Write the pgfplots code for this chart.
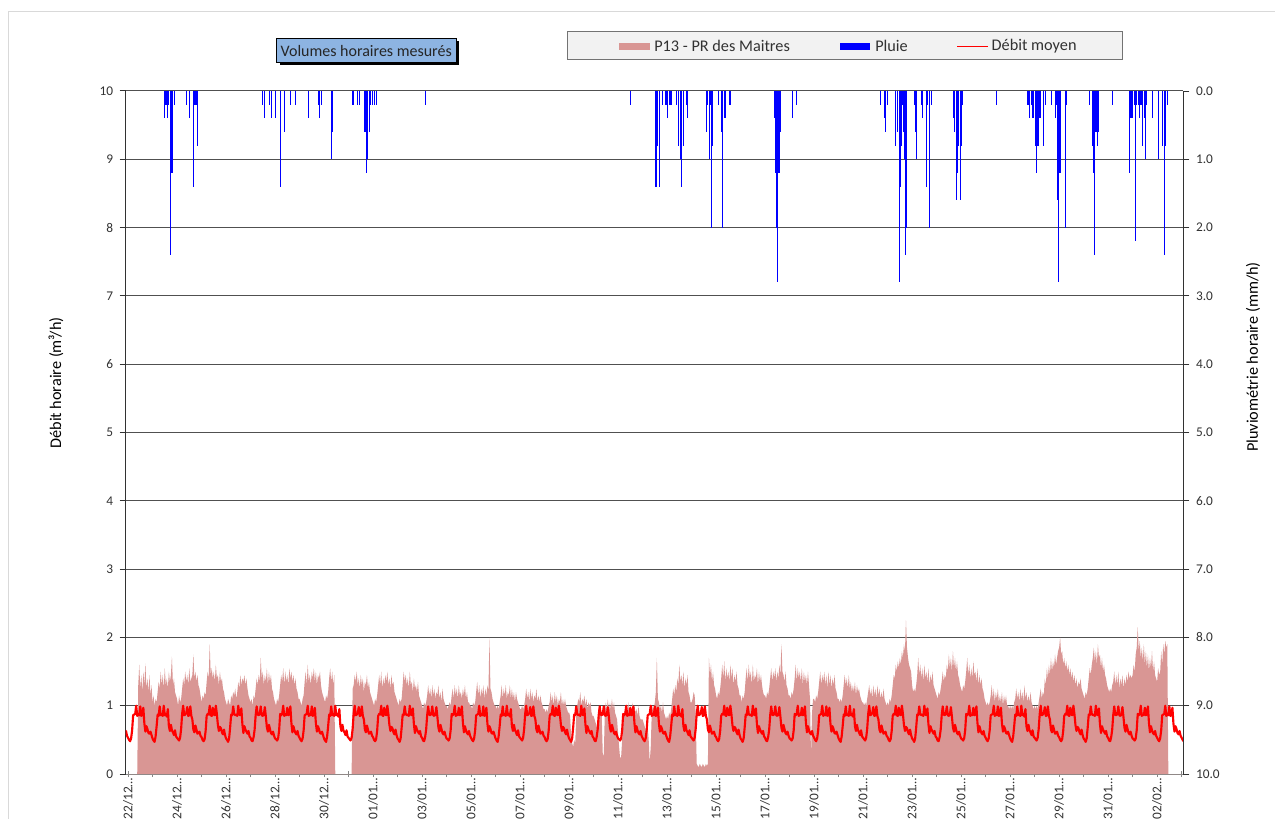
\documentclass[border=0pt]{standalone}
\usepackage{fontspec}
\setmainfont{Carlito}
\usepackage{pgfplots}
\pgfplotsset{compat=1.18}
\definecolor{pinkfill}{RGB}{217,150,148}
\definecolor{titlebox}{RGB}{141,180,226}
\definecolor{legfill}{RGB}{242,242,242}
\definecolor{gridc}{RGB}{80,80,80}
\definecolor{axisgray}{RGB}{134,134,134}
\definecolor{txt}{RGB}{50,50,50}
\pgfplotsset{/pgf/number format/assume math mode=true}
\newcommand{\bigf}{\fontsize{12.2}{14.6}\selectfont}
\begin{document}
\begin{tikzpicture}
\useasboundingbox (0,0) rectangle (956.25pt,613.5pt);
\draw[color=black!15, line width=0.75pt] (6pt,-5pt) -- (6pt,604.5pt) -- (965pt,604.5pt);
\begin{axis}[
  at={(94.3pt,33pt)}, anchor=south west,
  scale only axis, width=793.2pt, height=512.25pt,
  xmin=-0.094, xmax=43.07, ymin=0, ymax=10,
  axis y line*=left, axis x line*=bottom,
  ytick={0,1,...,10},
  xtick={0,2,...,42},
  minor xtick={1,3,...,43},
  xticklabels={22/12…,24/12…,26/12…,28/12…,30/12…,01/01…,03/01…,05/01…,07/01…,09/01…,11/01…,13/01…,15/01…,17/01…,19/01…,21/01…,23/01…,25/01…,27/01…,29/01…,31/01…,02/02…},
  xticklabel style={rotate=90, anchor=east, text=txt, inner sep=0.5pt},
  yticklabel style={text=txt, xshift=-1.5pt},
  major tick length=4.5pt, minor tick length=4.5pt,
  xtick align=center, ytick align=outside,
  x axis line style={axisgray, line width=0.75pt},
  y axis line style={txt, line width=0.75pt},
  xtick style={axisgray, line width=0.75pt},
  minor tick style={axisgray, line width=0.75pt},
  ytick style={txt, line width=0.75pt},
  ymajorgrids, grid style={gridc, line width=0.75pt},
  every axis y label/.style={at={(axis description cs:-0.0659,0.5725)}, rotate=90, anchor=center, font=\bigf, text=black},
  ylabel={Débit horaire (m³/h)},
]
\addplot[draw=none, fill=pinkfill] table[header=false, row sep=\\, x expr=\coordindex/24, y index=0] {
0\\0\\0\\0\\0\\0\\0\\0\\0\\0\\1.30\\1.60\\1.25\\1.45\\1.20\\1.50\\1.30\\1.62\\1.25\\1.40\\1.20\\1.45\\1.15\\1.30\\
1.05\\1.15\\1.00\\1.10\\1.05\\1.20\\1.35\\1.25\\1.50\\1.30\\1.45\\1.25\\1.55\\1.30\\1.40\\1.25\\1.50\\1.35\\1.45\\1.72\\1.30\\1.40\\1.20\\1.15\\
1.10\\1.00\\1.15\\1.05\\1.10\\1.25\\1.40\\1.30\\1.50\\1.35\\1.45\\1.30\\1.55\\1.35\\1.40\\1.45\\1.75\\1.40\\1.50\\1.35\\1.45\\1.30\\1.25\\1.15\\
1.05\\1.15\\1.10\\1.20\\1.15\\1.35\\1.50\\1.40\\1.90\\1.45\\1.55\\1.40\\1.50\\1.35\\1.60\\1.40\\1.45\\1.30\\1.50\\1.35\\1.40\\1.25\\1.20\\1.10\\
1.05\\1.00\\1.10\\1.05\\1.00\\1.15\\1.10\\1.20\\1.15\\1.25\\1.10\\1.20\\1.35\\1.25\\1.45\\1.30\\1.40\\1.35\\1.45\\1.30\\1.40\\1.25\\1.15\\1.10\\
1.05\\1.10\\1.00\\1.15\\1.10\\1.25\\1.40\\1.30\\1.45\\1.35\\1.70\\1.40\\1.50\\1.30\\1.45\\1.35\\1.55\\1.30\\1.50\\1.35\\1.45\\1.25\\1.20\\1.10\\
1.05\\1.00\\1.10\\1.05\\1.15\\1.30\\1.45\\1.35\\1.55\\1.30\\1.50\\1.35\\1.45\\1.30\\1.55\\1.40\\1.50\\1.35\\1.45\\1.30\\1.40\\1.25\\1.20\\1.10\\
1.10\\1.05\\1.00\\1.10\\1.15\\1.35\\1.50\\1.30\\1.60\\1.35\\1.45\\1.30\\1.50\\1.40\\1.55\\1.35\\1.50\\1.30\\1.45\\1.40\\1.50\\1.30\\1.20\\1.15\\
1.10\\1.05\\1.15\\1.10\\1.20\\1.40\\1.55\\1.35\\1.50\\1.30\\1.45\\0\\0\\0\\0\\0\\0\\0\\0\\0\\0\\0\\0\\0\\
0\\0\\0\\0\\1.25\\1.30\\1.45\\1.35\\1.50\\1.30\\1.40\\1.25\\1.45\\1.30\\1.40\\1.20\\1.35\\1.30\\1.45\\1.25\\1.35\\1.20\\1.15\\1.10\\
1.05\\1.00\\1.10\\1.05\\1.15\\1.30\\1.45\\1.30\\1.50\\1.25\\1.40\\1.30\\1.45\\1.35\\1.50\\1.30\\1.40\\1.25\\1.45\\1.30\\1.35\\1.20\\1.15\\1.10\\
1.05\\1.00\\1.10\\1.05\\1.10\\1.30\\1.50\\1.35\\1.45\\1.30\\1.40\\1.25\\1.50\\1.30\\1.35\\1.20\\1.40\\1.25\\1.30\\1.20\\1.35\\1.15\\1.10\\1.05\\
1.00\\0.95\\1.05\\1.00\\1.05\\1.15\\1.30\\1.15\\1.25\\1.10\\1.30\\1.15\\1.25\\1.10\\1.20\\1.15\\1.30\\1.10\\1.20\\1.05\\1.25\\1.10\\1.05\\1.00\\
1.00\\0.95\\1.00\\1.05\\1.00\\1.15\\1.25\\1.10\\1.30\\1.15\\1.25\\1.10\\1.30\\1.15\\1.20\\1.10\\1.25\\1.15\\1.30\\1.10\\1.20\\1.05\\1.05\\1.00\\
1.00\\0.95\\1.05\\1.00\\1.05\\1.20\\1.35\\1.15\\1.30\\1.10\\1.25\\1.15\\1.30\\1.10\\1.25\\1.15\\1.30\\1.20\\2.00\\1.25\\1.20\\1.10\\1.05\\1.00\\
1.00\\0.95\\1.00\\0.95\\1.05\\1.15\\1.30\\1.10\\1.25\\1.15\\1.30\\1.10\\1.20\\1.15\\1.30\\1.10\\1.25\\1.10\\1.20\\1.05\\1.20\\1.10\\1.05\\1.00\\
0.95\\0.95\\1.00\\0.95\\1.00\\1.10\\1.25\\1.10\\1.20\\1.05\\1.25\\1.10\\1.20\\1.05\\1.15\\1.10\\1.25\\1.05\\1.15\\1.05\\1.15\\1.05\\1.00\\0.95\\
0.95\\0.90\\0.95\\0.90\\1.00\\1.05\\1.20\\1.05\\1.15\\1.00\\1.20\\1.05\\1.15\\1.00\\1.10\\1.05\\1.20\\1.00\\1.10\\1.00\\1.10\\1.00\\0.95\\0.90\\
0.90\\0.85\\0.55\\0.45\\0.40\\0.50\\0.45\\0.85\\1.00\\1.10\\1.05\\1.20\\1.00\\1.10\\1.05\\1.15\\1.00\\1.10\\0.95\\1.05\\1.00\\1.05\\0.90\\0.85\\
0.85\\0.80\\0.75\\0.70\\0.65\\0.80\\0.90\\0.95\\0.85\\0.30\\0.26\\0.90\\1.05\\0.95\\1.10\\0.90\\1.05\\0.95\\1.10\\0.95\\1.05\\0.90\\0.85\\0.80\\
0.60\\0.40\\0.23\\0.25\\0.50\\0.75\\0.90\\0.95\\1.00\\0.90\\1.05\\0.85\\1.00\\0.90\\1.05\\0.85\\1.00\\0.90\\0.95\\0.85\\1.00\\0.85\\0.80\\0.80\\
0.80\\0.75\\0.70\\0.65\\0.60\\0.70\\0.50\\0.16\\0.40\\0.90\\1.00\\0.95\\1.05\\1.20\\1.70\\1.10\\1.05\\0.95\\1.00\\0.90\\1.05\\0.90\\0.85\\0.80\\
0.85\\0.80\\0.90\\0.85\\0.95\\1.10\\1.25\\1.15\\1.30\\1.20\\1.40\\1.30\\1.60\\1.35\\1.45\\1.30\\1.50\\1.25\\1.40\\1.30\\1.45\\1.20\\1.15\\1.05\\
1.05\\1.10\\1.20\\1.15\\0.90\\0.15\\0.12\\0.10\\0.15\\0.12\\0.10\\0.15\\0.12\\0.10\\0.15\\0.12\\0.15\\1.70\\1.45\\1.60\\1.35\\1.50\\1.30\\1.25\\
1.15\\1.10\\1.20\\1.15\\1.25\\1.40\\1.60\\1.40\\1.65\\1.35\\1.55\\1.40\\1.50\\1.35\\1.60\\1.40\\1.55\\1.30\\1.45\\1.35\\1.50\\1.30\\1.25\\1.15\\
1.15\\1.05\\1.15\\1.10\\1.20\\1.40\\1.55\\1.35\\1.60\\1.40\\1.50\\1.30\\1.60\\1.35\\1.45\\1.40\\1.55\\1.30\\1.50\\1.35\\1.45\\1.30\\1.20\\1.15\\
1.15\\1.10\\1.20\\1.15\\1.25\\1.40\\1.55\\1.35\\1.50\\1.40\\1.55\\1.35\\1.50\\1.40\\1.60\\1.45\\1.90\\1.50\\1.45\\1.35\\1.50\\1.30\\1.25\\1.15\\
1.15\\1.10\\1.20\\1.15\\1.25\\1.40\\1.60\\1.35\\1.55\\1.40\\1.50\\1.35\\1.55\\1.30\\1.50\\1.35\\1.45\\1.30\\1.50\\1.30\\1.10\\0.25\\0.90\\1.10\\
1.10\\1.05\\1.15\\1.10\\1.20\\1.35\\1.50\\1.30\\1.45\\1.35\\1.50\\1.30\\1.45\\1.25\\1.50\\1.30\\1.45\\1.25\\1.40\\1.30\\1.45\\1.25\\1.20\\1.10\\
1.10\\1.05\\1.10\\1.05\\1.15\\1.30\\1.45\\1.30\\1.40\\1.25\\1.45\\1.25\\1.35\\1.20\\1.30\\1.20\\1.35\\1.15\\1.30\\1.20\\1.25\\1.15\\1.10\\1.05\\
1.05\\1.00\\1.05\\1.00\\1.10\\1.20\\1.30\\1.15\\1.25\\1.10\\1.30\\1.15\\1.25\\1.10\\1.30\\1.15\\1.25\\1.10\\1.20\\1.10\\1.25\\1.10\\1.05\\1.00\\
1.05\\1.00\\1.10\\1.05\\1.15\\1.30\\1.45\\1.40\\1.60\\1.50\\1.65\\1.55\\1.70\\1.60\\1.80\\1.70\\1.90\\1.80\\2.25\\1.85\\1.70\\1.60\\1.55\\1.50\\
1.30\\1.20\\1.25\\1.20\\1.30\\1.45\\1.70\\1.45\\1.60\\1.40\\1.55\\1.35\\1.60\\1.40\\1.50\\1.35\\1.55\\1.30\\1.45\\1.35\\1.50\\1.30\\1.25\\1.20\\
1.15\\1.10\\1.20\\1.15\\1.25\\1.35\\1.50\\1.35\\1.45\\1.40\\1.60\\1.50\\1.75\\1.55\\1.70\\1.50\\1.80\\1.55\\1.70\\1.50\\1.65\\1.45\\1.40\\1.30\\
1.25\\1.20\\1.30\\1.25\\1.35\\1.50\\1.70\\1.45\\1.60\\1.40\\1.55\\1.40\\1.65\\1.45\\1.50\\1.35\\1.55\\1.30\\1.45\\1.30\\1.40\\1.25\\1.20\\1.10\\
1.05\\1.00\\1.05\\1.00\\1.05\\1.15\\1.30\\1.10\\1.25\\1.05\\1.20\\1.10\\1.25\\1.05\\1.15\\1.05\\1.20\\1.00\\1.15\\1.05\\1.15\\1.00\\1.00\\0.95\\
1.00\\0.95\\1.00\\0.95\\1.05\\1.10\\1.25\\1.10\\1.20\\1.05\\1.25\\1.10\\1.20\\1.05\\1.30\\1.10\\1.20\\1.05\\1.15\\1.05\\1.20\\1.05\\1.00\\0.95\\
1.00\\0.95\\1.00\\0.95\\1.05\\1.15\\1.25\\1.10\\1.20\\1.15\\1.40\\1.30\\1.55\\1.40\\1.60\\1.45\\1.70\\1.50\\1.65\\1.55\\1.75\\1.60\\1.70\\1.80\\
1.85\\2.00\\1.75\\1.80\\1.60\\1.70\\1.55\\1.65\\1.50\\1.60\\1.45\\1.55\\1.40\\1.50\\1.35\\1.45\\1.30\\1.40\\1.25\\1.35\\1.30\\1.40\\1.25\\1.20\\
1.15\\1.10\\1.20\\1.15\\1.25\\1.40\\1.55\\1.45\\1.60\\1.70\\1.85\\1.65\\1.80\\1.60\\1.90\\1.70\\1.75\\1.55\\1.70\\1.50\\1.60\\1.45\\1.40\\1.30\\
1.25\\1.20\\1.25\\1.20\\1.30\\1.35\\1.50\\1.30\\1.45\\1.30\\1.50\\1.25\\1.40\\1.30\\1.45\\1.25\\1.40\\1.30\\1.45\\1.35\\1.50\\1.40\\1.45\\1.40\\
1.45\\1.60\\1.50\\1.75\\1.85\\2.15\\1.80\\1.95\\1.70\\1.85\\1.65\\1.90\\1.60\\1.80\\1.55\\1.75\\1.50\\1.70\\1.55\\1.80\\1.50\\1.65\\1.45\\1.40\\
1.35\\1.55\\1.45\\1.50\\1.80\\1.60\\1.90\\1.75\\1.95\\1.85\\1.90\\0\\0\\0\\0\\0\\0\\0\\0\\0\\0\\0\\0\\0\\
0\\
} \closedcycle;
\addplot[red, line width=1.6pt, line join=round] table[header=false, row sep=\\, x expr=\coordindex/24-0.125, y index=0] {
0.58\\0.63\\0.56\\0.53\\0.50\\0.48\\0.52\\0.64\\0.86\\0.87\\0.88\\1.00\\0.85\\0.88\\0.86\\0.99\\0.85\\0.87\\0.97\\0.74\\0.62\\0.70\\0.66\\0.60\\
0.59\\0.62\\0.57\\0.52\\0.49\\0.47\\0.55\\0.70\\0.87\\0.85\\0.99\\0.86\\0.87\\0.85\\1.00\\0.86\\0.88\\0.84\\0.95\\0.70\\0.63\\0.72\\0.64\\0.61\\
0.57\\0.64\\0.55\\0.53\\0.51\\0.49\\0.53\\0.66\\0.88\\1.00\\0.86\\0.87\\0.89\\0.98\\0.85\\0.86\\0.99\\0.85\\0.80\\0.65\\0.61\\0.71\\0.65\\0.59\\
0.60\\0.62\\0.56\\0.54\\0.50\\0.48\\0.51\\0.63\\0.85\\0.88\\0.87\\1.00\\0.86\\0.85\\0.97\\0.87\\0.86\\1.00\\0.88\\0.72\\0.63\\0.69\\0.67\\0.61\\
0.58\\0.65\\0.57\\0.52\\0.50\\0.47\\0.52\\0.68\\0.87\\0.86\\0.99\\0.88\\0.86\\0.87\\0.85\\1.00\\0.87\\0.86\\0.96\\0.73\\0.60\\0.70\\0.65\\0.62\\
0.59\\0.63\\0.55\\0.53\\0.49\\0.48\\0.54\\0.65\\0.86\\0.99\\0.87\\0.86\\0.88\\0.99\\0.86\\0.85\\0.87\\0.98\\0.84\\0.68\\0.62\\0.72\\0.66\\0.60\\
0.58\\0.62\\0.56\\0.52\\0.51\\0.49\\0.52\\0.64\\0.88\\0.86\\0.88\\1.00\\0.85\\0.87\\0.86\\0.97\\0.86\\0.88\\0.99\\0.75\\0.61\\0.70\\0.64\\0.60\\
0.58\\0.63\\0.56\\0.53\\0.50\\0.48\\0.52\\0.64\\0.86\\0.87\\0.88\\1.00\\0.85\\0.88\\0.86\\0.99\\0.85\\0.87\\0.97\\0.74\\0.62\\0.70\\0.66\\0.60\\
0.59\\0.62\\0.57\\0.52\\0.49\\0.47\\0.55\\0.70\\0.87\\0.85\\0.99\\0.86\\0.87\\0.85\\1.00\\0.86\\0.88\\0.84\\0.95\\0.70\\0.63\\0.72\\0.64\\0.61\\
0.57\\0.64\\0.55\\0.53\\0.51\\0.49\\0.53\\0.66\\0.88\\1.00\\0.86\\0.87\\0.89\\0.98\\0.85\\0.86\\0.99\\0.85\\0.80\\0.65\\0.61\\0.71\\0.65\\0.59\\
0.60\\0.62\\0.56\\0.54\\0.50\\0.48\\0.51\\0.63\\0.85\\0.88\\0.87\\1.00\\0.86\\0.85\\0.97\\0.87\\0.86\\1.00\\0.88\\0.72\\0.63\\0.69\\0.67\\0.61\\
0.58\\0.65\\0.57\\0.52\\0.50\\0.47\\0.52\\0.68\\0.87\\0.86\\0.99\\0.88\\0.86\\0.87\\0.85\\1.00\\0.87\\0.86\\0.96\\0.73\\0.60\\0.70\\0.65\\0.62\\
0.59\\0.63\\0.55\\0.53\\0.49\\0.48\\0.54\\0.65\\0.86\\0.99\\0.87\\0.86\\0.88\\0.99\\0.86\\0.85\\0.87\\0.98\\0.84\\0.68\\0.62\\0.72\\0.66\\0.60\\
0.58\\0.62\\0.56\\0.52\\0.51\\0.49\\0.52\\0.64\\0.88\\0.86\\0.88\\1.00\\0.85\\0.87\\0.86\\0.97\\0.86\\0.88\\0.99\\0.75\\0.61\\0.70\\0.64\\0.60\\
0.58\\0.63\\0.56\\0.53\\0.50\\0.48\\0.52\\0.64\\0.86\\0.87\\0.88\\1.00\\0.85\\0.88\\0.86\\0.99\\0.85\\0.87\\0.97\\0.74\\0.62\\0.70\\0.66\\0.60\\
0.59\\0.62\\0.57\\0.52\\0.49\\0.47\\0.55\\0.70\\0.87\\0.85\\0.99\\0.86\\0.87\\0.85\\1.00\\0.86\\0.88\\0.84\\0.95\\0.70\\0.63\\0.72\\0.64\\0.61\\
0.57\\0.64\\0.55\\0.53\\0.51\\0.49\\0.53\\0.66\\0.88\\1.00\\0.86\\0.87\\0.89\\0.98\\0.85\\0.86\\0.99\\0.85\\0.80\\0.65\\0.61\\0.71\\0.65\\0.59\\
0.60\\0.62\\0.56\\0.54\\0.50\\0.48\\0.51\\0.63\\0.85\\0.88\\0.87\\1.00\\0.86\\0.85\\0.97\\0.87\\0.86\\1.00\\0.88\\0.72\\0.63\\0.69\\0.67\\0.61\\
0.58\\0.65\\0.57\\0.52\\0.50\\0.47\\0.52\\0.68\\0.87\\0.86\\0.99\\0.88\\0.86\\0.87\\0.85\\1.00\\0.87\\0.86\\0.96\\0.73\\0.60\\0.70\\0.65\\0.62\\
0.59\\0.63\\0.55\\0.53\\0.49\\0.48\\0.54\\0.65\\0.86\\0.99\\0.87\\0.86\\0.88\\0.99\\0.86\\0.85\\0.87\\0.98\\0.84\\0.68\\0.62\\0.72\\0.66\\0.60\\
0.58\\0.62\\0.56\\0.52\\0.51\\0.49\\0.52\\0.64\\0.88\\0.86\\0.88\\1.00\\0.85\\0.87\\0.86\\0.97\\0.86\\0.88\\0.99\\0.75\\0.61\\0.70\\0.64\\0.60\\
0.58\\0.63\\0.56\\0.53\\0.50\\0.48\\0.52\\0.64\\0.86\\0.87\\0.88\\1.00\\0.85\\0.88\\0.86\\0.99\\0.85\\0.87\\0.97\\0.74\\0.62\\0.70\\0.66\\0.60\\
0.59\\0.62\\0.57\\0.52\\0.49\\0.47\\0.55\\0.70\\0.87\\0.85\\0.99\\0.86\\0.87\\0.85\\1.00\\0.86\\0.88\\0.84\\0.95\\0.70\\0.63\\0.72\\0.64\\0.61\\
0.57\\0.64\\0.55\\0.53\\0.51\\0.49\\0.53\\0.66\\0.88\\1.00\\0.86\\0.87\\0.89\\0.98\\0.85\\0.86\\0.99\\0.85\\0.80\\0.65\\0.61\\0.71\\0.65\\0.59\\
0.60\\0.62\\0.56\\0.54\\0.50\\0.48\\0.51\\0.63\\0.85\\0.88\\0.87\\1.00\\0.86\\0.85\\0.97\\0.87\\0.86\\1.00\\0.88\\0.72\\0.63\\0.69\\0.67\\0.61\\
0.58\\0.65\\0.57\\0.52\\0.50\\0.47\\0.52\\0.68\\0.87\\0.86\\0.99\\0.88\\0.86\\0.87\\0.85\\1.00\\0.87\\0.86\\0.96\\0.73\\0.60\\0.70\\0.65\\0.62\\
0.59\\0.63\\0.55\\0.53\\0.49\\0.48\\0.54\\0.65\\0.86\\0.99\\0.87\\0.86\\0.88\\0.99\\0.86\\0.85\\0.87\\0.98\\0.84\\0.68\\0.62\\0.72\\0.66\\0.60\\
0.58\\0.62\\0.56\\0.52\\0.51\\0.49\\0.52\\0.64\\0.88\\0.86\\0.88\\1.00\\0.85\\0.87\\0.86\\0.97\\0.86\\0.88\\0.99\\0.75\\0.61\\0.70\\0.64\\0.60\\
0.58\\0.63\\0.56\\0.53\\0.50\\0.48\\0.52\\0.64\\0.86\\0.87\\0.88\\1.00\\0.85\\0.88\\0.86\\0.99\\0.85\\0.87\\0.97\\0.74\\0.62\\0.70\\0.66\\0.60\\
0.59\\0.62\\0.57\\0.52\\0.49\\0.47\\0.55\\0.70\\0.87\\0.85\\0.99\\0.86\\0.87\\0.85\\1.00\\0.86\\0.88\\0.84\\0.95\\0.70\\0.63\\0.72\\0.64\\0.61\\
0.57\\0.64\\0.55\\0.53\\0.51\\0.49\\0.53\\0.66\\0.88\\1.00\\0.86\\0.87\\0.89\\0.98\\0.85\\0.86\\0.99\\0.85\\0.80\\0.65\\0.61\\0.71\\0.65\\0.59\\
0.60\\0.62\\0.56\\0.54\\0.50\\0.48\\0.51\\0.63\\0.85\\0.88\\0.87\\1.00\\0.86\\0.85\\0.97\\0.87\\0.86\\1.00\\0.88\\0.72\\0.63\\0.69\\0.67\\0.61\\
0.58\\0.65\\0.57\\0.52\\0.50\\0.47\\0.52\\0.68\\0.87\\0.86\\0.99\\0.88\\0.86\\0.87\\0.85\\1.00\\0.87\\0.86\\0.96\\0.73\\0.60\\0.70\\0.65\\0.62\\
0.59\\0.63\\0.55\\0.53\\0.49\\0.48\\0.54\\0.65\\0.86\\0.99\\0.87\\0.86\\0.88\\0.99\\0.86\\0.85\\0.87\\0.98\\0.84\\0.68\\0.62\\0.72\\0.66\\0.60\\
0.58\\0.62\\0.56\\0.52\\0.51\\0.49\\0.52\\0.64\\0.88\\0.86\\0.88\\1.00\\0.85\\0.87\\0.86\\0.97\\0.86\\0.88\\0.99\\0.75\\0.61\\0.70\\0.64\\0.60\\
0.58\\0.63\\0.56\\0.53\\0.50\\0.48\\0.52\\0.64\\0.86\\0.87\\0.88\\1.00\\0.85\\0.88\\0.86\\0.99\\0.85\\0.87\\0.97\\0.74\\0.62\\0.70\\0.66\\0.60\\
0.59\\0.62\\0.57\\0.52\\0.49\\0.47\\0.55\\0.70\\0.87\\0.85\\0.99\\0.86\\0.87\\0.85\\1.00\\0.86\\0.88\\0.84\\0.95\\0.70\\0.63\\0.72\\0.64\\0.61\\
0.57\\0.64\\0.55\\0.53\\0.51\\0.49\\0.53\\0.66\\0.88\\1.00\\0.86\\0.87\\0.89\\0.98\\0.85\\0.86\\0.99\\0.85\\0.80\\0.65\\0.61\\0.71\\0.65\\0.59\\
0.60\\0.62\\0.56\\0.54\\0.50\\0.48\\0.51\\0.63\\0.85\\0.88\\0.87\\1.00\\0.86\\0.85\\0.97\\0.87\\0.86\\1.00\\0.88\\0.72\\0.63\\0.69\\0.67\\0.61\\
0.58\\0.65\\0.57\\0.52\\0.50\\0.47\\0.52\\0.68\\0.87\\0.86\\0.99\\0.88\\0.86\\0.87\\0.85\\1.00\\0.87\\0.86\\0.96\\0.73\\0.60\\0.70\\0.65\\0.62\\
0.59\\0.63\\0.55\\0.53\\0.49\\0.48\\0.54\\0.65\\0.86\\0.99\\0.87\\0.86\\0.88\\0.99\\0.86\\0.85\\0.87\\0.98\\0.84\\0.68\\0.62\\0.72\\0.66\\0.60\\
0.58\\0.62\\0.56\\0.52\\0.51\\0.49\\0.52\\0.64\\0.88\\0.86\\0.88\\1.00\\0.85\\0.87\\0.86\\0.97\\0.86\\0.88\\0.99\\0.75\\0.61\\0.70\\0.64\\0.60\\
0.58\\0.63\\0.56\\0.53\\0.50\\0.48\\0.52\\0.64\\0.86\\0.87\\0.88\\1.00\\0.85\\0.88\\0.86\\0.99\\0.85\\0.87\\0.97\\0.74\\0.62\\0.70\\0.66\\0.60\\
0.58\\0.63\\0.56\\0.53\\0.50\\0.48\\
};
\end{axis}
\begin{axis}[
  at={(94.3pt,33pt)}, anchor=south west,
  scale only axis, width=793.2pt, height=512.25pt,
  xmin=-0.094, xmax=43.07, ymin=0, ymax=10, y dir=reverse,
  axis y line*=right, axis x line=none,
  ytick={0,1,...,10},
  yticklabel style={text=txt, xshift=1.5pt, /pgf/number format/fixed, /pgf/number format/fixed zerofill, /pgf/number format/precision=1},
  major tick length=4.5pt, ytick align=outside,
  y axis line style={txt, line width=0.75pt},
  ytick style={txt, line width=0.75pt},
  every axis y label/.style={at={(axis description cs:1.0659,0.6105)}, rotate=90, anchor=center, font=\bigf, text=black},
  ylabel={Pluviométrie horaire (mm/h)},
]
\addplot[ycomb, blue, line width=0.75pt, mark=none] coordinates {
(1.48,0.4) (1.52,0.2) (1.58,0.2) (1.62,0.4) (1.67,0.2) (1.74,2.4) (1.78,1.2) (1.82,1.2) (1.88,0.2)
(2.40,0.2) (2.50,0.4) (2.67,1.4) (2.71,0.2) (2.75,0.2) (2.80,0.2) (2.83,0.8)
(5.50,0.2) (5.55,0.4) (5.77,0.2) (5.84,0.4) (6.00,0.4) (6.24,1.4) (6.37,0.6) (6.65,0.2) (6.84,0.2)
(7.36,0.4) (7.77,0.2) (7.81,0.4) (7.88,0.2) (8.29,1.0) (8.36,0.6)
(9.16,0.2) (9.20,0.2) (9.37,0.2) (9.43,0.2) (9.64,0.6) (9.70,0.6) (9.74,1.2) (9.78,1.0) (9.84,0.6)
(9.88,0.2) (9.97,0.2) (10.04,0.2) (10.12,0.2) (12.15,0.2) (20.52,0.2)
(21.54,1.4) (21.58,1.4) (21.62,0.8) (21.67,0.2) (21.71,1.4) (21.81,0.2) (21.95,0.2) (21.99,0.2)
(22.03,0.4) (22.09,0.2) (22.15,0.2) (22.20,0.2) (22.40,0.2) (22.45,0.2) (22.48,0.8) (22.53,1.0)
(22.56,1.0) (22.60,1.4) (22.65,0.8) (22.69,0.6) (22.80,0.2) (22.84,0.4)
(23.62,0.6) (23.66,0.2) (23.72,1.0) (23.77,0.2) (23.82,2.0) (23.87,0.8) (24.10,0.2) (24.23,0.6)
(24.27,2.0) (24.33,0.4) (24.37,0.4) (24.54,0.2) (24.58,0.2)
(26.37,0.4) (26.41,1.2) (26.45,2.0) (26.49,2.4) (26.52,2.8) (26.56,1.2) (26.60,1.2) (26.62,0.6)
(27.13,0.4) (27.27,0.2)
(30.72,0.2) (30.86,0.4) (30.90,0.6) (30.99,0.2) (31.33,0.8) (31.41,0.6) (31.47,2.8) (31.51,1.4)
(31.56,0.8) (31.62,0.2) (31.66,0.6) (31.70,1.0) (31.73,2.4) (31.77,2.0) (32.08,0.2) (32.12,0.6)
(32.16,1.0) (32.40,0.2) (32.44,0.4) (32.60,1.4) (32.64,0.2) (32.69,0.2) (32.73,2.0) (32.78,0.2)
(33.69,0.4) (33.73,0.6) (33.80,1.6) (33.84,1.2) (33.89,0.8) (33.96,1.6) (34.00,0.8) (34.04,0.2)
(35.46,0.2)
(36.72,0.2) (36.76,0.2) (36.80,0.4) (36.89,0.2) (36.93,0.4) (36.97,0.4) (37.03,0.8) (37.07,1.2)
(37.11,0.8) (37.16,0.8) (37.20,0.4) (37.24,0.4) (37.35,0.2) (37.38,0.8) (37.46,0.2)
(37.70,0.2) (37.84,0.4) (37.88,0.2) (37.93,1.6) (37.97,2.8) (38.01,1.2) (38.04,1.2) (38.26,2.0) (38.31,0.2)
(39.24,0.2) (39.36,0.8) (39.40,1.2) (39.44,2.4) (39.48,0.6) (39.52,0.6) (39.56,0.8) (39.60,0.6) (40.16,0.2)
(40.87,1.2) (40.93,0.4) (40.97,0.4) (41.01,0.4) (41.06,0.2) (41.11,2.2) (41.17,0.2) (41.25,0.2)
(41.29,0.4) (41.33,0.2) (41.37,0.2) (41.42,0.8) (41.47,0.4) (41.52,1.0) (41.55,0.2)
(41.82,0.4) (42.05,1.0) (42.23,0.8) (42.29,2.4) (42.33,0.8) (42.41,0.2)
};
\end{axis}
% title box with shadow
\fill[black] (209.65pt,564.55pt) rectangle (344.25pt,582.55pt);
\draw[fill=titlebox, draw=black, line width=0.6pt] (207.4pt,566.8pt) rectangle (342.0pt,584.8pt);
\node[text=black!85, inner sep=0pt, font=\fontsize{12}{14}\selectfont] at (274.7pt,575.6pt) {Volumes horaires mesurés};
% legend
\draw[fill=legfill, draw=black!55, line width=0.75pt] (425.25pt,568.5pt) rectangle (841.5pt,589.5pt);
\fill[pinkfill] (464.25pt,576pt) rectangle (487.5pt,581.5pt);
\node[anchor=west, inner sep=0pt, text=txt, font=\bigf] at (490.5pt,578.8pt) {P13 - PR des Maitres};
\fill[blue] (630pt,576pt) rectangle (652.5pt,581.5pt);
\node[anchor=west, inner sep=0pt, text=txt, font=\bigf] at (656.25pt,578.8pt) {Pluie};
\draw[red, line width=0.9pt] (717.75pt,578.8pt) -- (741pt,578.8pt);
\node[anchor=west, inner sep=0pt, text=txt, font=\bigf] at (743.6pt,578.8pt) {Débit moyen};
\end{tikzpicture}
\end{document}
